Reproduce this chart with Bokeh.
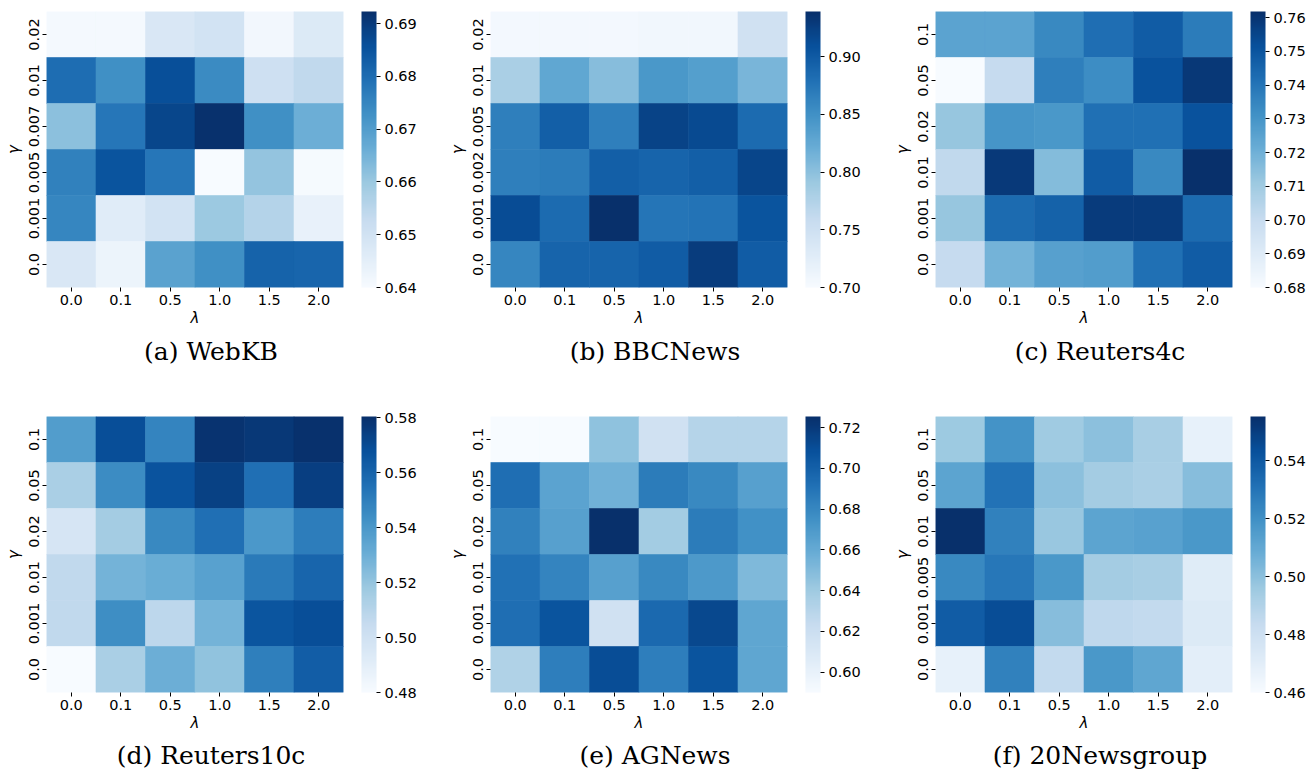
from bokeh.plotting import figure
from bokeh.models import (LinearColorMapper, ColorBar, FixedTicker,
                          PrintfTickFormatter, Div, ColumnDataSource)
from bokeh.layouts import column, row
from bokeh.palettes import Blues256
from bokeh.transform import transform
from bokeh.embed import file_html
from bokeh.resources import INLINE

# ---------------- data ----------------
lambdas = ["0.0", "0.1", "0.5", "1.0", "1.5", "2.0"]

# gamma labels, listed top row -> bottom row
gammas_webkb = ["0.02", "0.01", "0.007", "0.005", "0.001", "0.0"]
gammas_bbc = ["0.02", "0.01", "0.005", "0.002", "0.001", "0.0"]
gammas_r4c = ["0.1", "0.05", "0.02", "0.01", "0.001", "0.0"]
gammas_r10c = ["0.1", "0.05", "0.02", "0.01", "0.001", "0.0"]
gammas_ag = ["0.1", "0.05", "0.02", "0.01", "0.001", "0.0"]
gammas_20ng = ["0.1", "0.05", "0.01", "0.005", "0.001", "0.0"]

# values, rows top -> bottom, columns follow lambdas
webkb = [
    [0.641, 0.641, 0.648, 0.650, 0.6415, 0.647],
    [0.680, 0.673, 0.686, 0.674, 0.651, 0.654],
    [0.662, 0.678, 0.688, 0.692, 0.673, 0.666],
    [0.676, 0.685, 0.678, 0.640, 0.661, 0.6405],
    [0.675, 0.646, 0.650, 0.660, 0.656, 0.644],
    [0.648, 0.643, 0.669, 0.673, 0.682, 0.6815],
]
bbcnews = [
    [0.705, 0.705, 0.705, 0.708, 0.708, 0.748],
    [0.781, 0.827, 0.803, 0.843, 0.836, 0.812],
    [0.867, 0.896, 0.867, 0.922, 0.915, 0.884],
    [0.867, 0.869, 0.896, 0.891, 0.896, 0.920],
    [0.913, 0.884, 0.939, 0.875, 0.877, 0.906],
    [0.860, 0.891, 0.891, 0.898, 0.927, 0.898],
]
reuters4c = [
    [0.725, 0.725, 0.734, 0.742, 0.748, 0.738],
    [0.680, 0.7005, 0.737, 0.7325, 0.751, 0.759],
    [0.712, 0.730, 0.729, 0.7415, 0.7415, 0.751],
    [0.702, 0.7587, 0.716, 0.748, 0.734, 0.762],
    [0.712, 0.743, 0.746, 0.758, 0.758, 0.743],
    [0.7005, 0.719, 0.726, 0.727, 0.7415, 0.748],
]
reuters10c = [
    [0.538, 0.569, 0.548, 0.579, 0.577, 0.580],
    [0.514, 0.545, 0.567, 0.574, 0.556, 0.575],
    [0.497, 0.516, 0.546, 0.556, 0.540, 0.551],
    [0.507, 0.528, 0.531, 0.536, 0.552, 0.560],
    [0.507, 0.544, 0.508, 0.528, 0.566, 0.569],
    [0.480, 0.514, 0.530, 0.521, 0.550, 0.563],
]
agnews = [
    [0.590, 0.590, 0.646, 0.617, 0.631, 0.631],
    [0.693, 0.6645, 0.656, 0.686, 0.679, 0.666],
    [0.6835, 0.666, 0.7255, 0.639, 0.686, 0.675],
    [0.6915, 0.682, 0.666, 0.679, 0.670, 0.651],
    [0.693, 0.7065, 0.617, 0.6955, 0.713, 0.663],
    [0.633, 0.685, 0.7105, 0.685, 0.7065, 0.663],
]
news20 = [
    [0.496, 0.519, 0.495, 0.500, 0.493, 0.4676],
    [0.512, 0.531, 0.500, 0.494, 0.492, 0.501],
    [0.555, 0.5255, 0.497, 0.512, 0.513, 0.517],
    [0.5227, 0.529, 0.517, 0.494, 0.493, 0.4714],
    [0.539, 0.5446, 0.501, 0.4857, 0.4847, 0.473],
    [0.4676, 0.5255, 0.4847, 0.517, 0.511, 0.4695],
]

titles = ["(a) WebKB", "(b) BBCNews", "(c) Reuters4c",
          "(d) Reuters10c", "(e) AGNews", "(f) 20Newsgroup"]
color_lows = [0.64, 0.70, 0.68, 0.48, 0.590, 0.46]
color_highs = [0.6923, 0.939, 0.7618, 0.5805, 0.7255, 0.5552]
cbar_ticks = [
    [0.64, 0.65, 0.66, 0.67, 0.68, 0.69],
    [0.70, 0.75, 0.80, 0.85, 0.90],
    [0.68, 0.69, 0.70, 0.71, 0.72, 0.73, 0.74, 0.75, 0.76],
    [0.48, 0.50, 0.52, 0.54, 0.56, 0.58],
    [0.60, 0.62, 0.64, 0.66, 0.68, 0.70, 0.72],
    [0.46, 0.48, 0.50, 0.52, 0.54],
]
all_gammas = [gammas_webkb, gammas_bbc, gammas_r4c, gammas_r10c, gammas_ag, gammas_20ng]
all_values = [webkb, bbcnews, reuters4c, reuters10c, agnews, news20]

# ---------------- drawing ----------------
palette = list(reversed(Blues256))
TICK_FONT = "DejaVu Sans"
TICK_SIZE = "14.5px"
FW, FH = 297, 276
BOTTOM = 44


def make_panel(idx, left_border, right_border):
    gammas = all_gammas[idx]
    vals = all_values[idx]
    xs, ys, vs = [], [], []
    for r, g in enumerate(gammas):
        for c, lam in enumerate(lambdas):
            xs.append(lam)
            ys.append(g)
            vs.append(vals[r][c])
    src = ColumnDataSource(dict(x=xs, y=ys, v=vs))
    mapper = LinearColorMapper(palette=palette, low=color_lows[idx], high=color_highs[idx])

    p = figure(x_range=lambdas, y_range=list(reversed(gammas)),
               frame_width=FW, frame_height=FH,
               min_border_left=left_border, min_border_right=right_border,
               min_border_top=11, min_border_bottom=BOTTOM,
               output_backend="svg", toolbar_location=None)
    p.rect(x="x", y="y", width=1, height=1, source=src,
           fill_color=transform("v", mapper),
           line_color=transform("v", mapper), line_width=0.6)

    p.outline_line_color = None
    p.grid.grid_line_color = None
    for ax in (p.xaxis[0], p.yaxis[0]):
        ax.axis_line_color = None
        ax.major_tick_out = 4
        ax.major_tick_in = 0
        ax.minor_tick_line_color = None
        ax.major_tick_line_color = "black"
        ax.major_label_text_font = TICK_FONT
        ax.major_label_text_font_size = TICK_SIZE
        ax.major_label_text_color = "black"
        ax.axis_label_text_font = TICK_FONT
        ax.axis_label_text_font_size = "15px"
        ax.axis_label_text_font_style = "italic"
        ax.axis_label_text_color = "black"
    p.xaxis.axis_label = "λ"
    p.yaxis.axis_label = "γ"
    p.xaxis.major_label_standoff = 3
    p.xaxis.axis_label_standoff = 1
    p.yaxis.major_label_standoff = 4
    p.yaxis.axis_label_standoff = 3
    p.yaxis.major_label_orientation = "vertical"

    cb = ColorBar(color_mapper=mapper,
                  ticker=FixedTicker(ticks=cbar_ticks[idx]),
                  formatter=PrintfTickFormatter(format="%.2f"),
                  width=15, height=FH, padding=0, margin=0,
                  location=(18, 0),
                  major_tick_out=4, major_tick_in=0,
                  major_tick_line_color="black",
                  minor_tick_line_color=None,
                  bar_line_color=None, border_line_color=None,
                  background_fill_color=None,
                  label_standoff=4,
                  major_label_text_font=TICK_FONT,
                  major_label_text_font_size=TICK_SIZE,
                  major_label_text_color="black")
    p.add_layout(cb, "right")
    return p


def make_caption(idx, center_x, box_h, line_h):
    return Div(text=titles[idx], width=int(2 * center_x), height=box_h, margin=0,
               styles={"font-family": "DejaVu Serif", "font-size": "25px",
                       "line-height": f"{line_h}px", "text-align": "center",
                       "color": "black", "white-space": "nowrap"})


cells_top, cells_bot = [], []
specs = [(46, 101), (46, 101), (47, 80)]
for k in range(3):
    lb, rb = specs[k]
    p_top = make_panel(k, lb, rb)
    cap_top = make_caption(k, lb + FW / 2 + 16.5, 74, 42)
    cells_top.append(column(p_top, cap_top, spacing=0))
    p_bot = make_panel(k + 3, lb, rb)
    cap_bot = make_caption(k + 3, lb + FW / 2 + 16.5, 40, 40)
    cells_bot.append(column(p_bot, cap_bot, spacing=0))

page = column(row(*cells_top, spacing=0), row(*cells_bot, spacing=0), spacing=0)

open("out.html", "w").write(file_html(page, INLINE))
